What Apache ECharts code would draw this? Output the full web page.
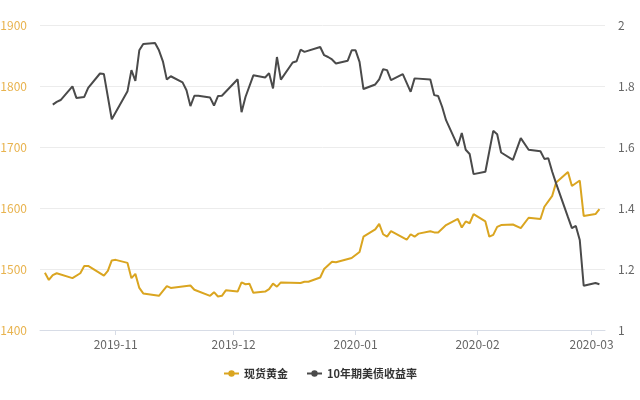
<!DOCTYPE html>
<html>
<head>
<meta charset="utf-8">
<script src="https://cdn.jsdelivr.net/npm/echarts@6/dist/echarts.min.js"></script>
<style>
html,body{margin:0;padding:0;background:#fff;}
#chart{width:640px;height:400px;}
</style>
</head>
<body>
<div id="chart"></div>
<script>
var goldName = '现货黄金';
var yieldName = '10年期美债收益率';

var goldDates = ['2019-10-14','2019-10-15','2019-10-16','2019-10-17','2019-10-21','2019-10-23','2019-10-24','2019-10-25','2019-10-29','2019-10-30','2019-10-31','2019-11-01','2019-11-04','2019-11-05','2019-11-06','2019-11-07','2019-11-08','2019-11-12','2019-11-14','2019-11-15','2019-11-20','2019-11-21','2019-11-25','2019-11-26','2019-11-27','2019-11-28','2019-11-29','2019-12-02','2019-12-03','2019-12-04','2019-12-05','2019-12-06','2019-12-09','2019-12-10','2019-12-11','2019-12-12','2019-12-13','2019-12-18','2019-12-19','2019-12-20','2019-12-23','2019-12-24','2019-12-26','2019-12-27','2019-12-31','2020-01-02','2020-01-03','2020-01-06','2020-01-07','2020-01-08','2020-01-09','2020-01-10','2020-01-14','2020-01-15','2020-01-16','2020-01-17','2020-01-20','2020-01-21','2020-01-22','2020-01-24','2020-01-27','2020-01-28','2020-01-29','2020-01-30','2020-01-31','2020-02-03','2020-02-04','2020-02-05','2020-02-06','2020-02-07','2020-02-10','2020-02-12','2020-02-14','2020-02-17','2020-02-18','2020-02-20','2020-02-21','2020-02-24','2020-02-25','2020-02-27','2020-02-28','2020-03-02','2020-03-03'];
var goldValues = [1494,1482,1490,1493,1485,1493,1505,1505,1489,1497,1514,1515,1510,1485,1492,1469,1460,1456,1472,1469,1473,1466,1456,1462,1455,1456,1465,1463,1478,1475,1476,1461,1463,1467,1476,1471,1478,1477,1479,1479,1486,1500,1512,1511,1518,1528,1553,1565,1574,1557,1553,1562,1548,1557,1553,1558,1562,1560,1560,1572,1582,1568,1578,1575,1590,1578,1553,1556,1569,1572,1573,1567,1584,1582,1602,1620,1642,1659,1636,1645,1587,1590,1598];

var yieldDates = ['2019-10-16','2019-10-17','2019-10-18','2019-10-21','2019-10-22','2019-10-24','2019-10-25','2019-10-28','2019-10-29','2019-10-31','2019-11-04','2019-11-05','2019-11-06','2019-11-07','2019-11-08','2019-11-11','2019-11-12','2019-11-13','2019-11-14','2019-11-15','2019-11-18','2019-11-19','2019-11-20','2019-11-21','2019-11-22','2019-11-25','2019-11-26','2019-11-27','2019-11-28','2019-12-02','2019-12-03','2019-12-04','2019-12-06','2019-12-09','2019-12-10','2019-12-11','2019-12-12','2019-12-13','2019-12-16','2019-12-17','2019-12-18','2019-12-19','2019-12-23','2019-12-24','2019-12-25','2019-12-26','2019-12-27','2019-12-30','2019-12-31','2020-01-01','2020-01-02','2020-01-03','2020-01-06','2020-01-07','2020-01-08','2020-01-09','2020-01-10','2020-01-13','2020-01-15','2020-01-16','2020-01-20','2020-01-21','2020-01-22','2020-01-23','2020-01-24','2020-01-27','2020-01-28','2020-01-29','2020-01-30','2020-01-31','2020-02-03','2020-02-05','2020-02-06','2020-02-07','2020-02-10','2020-02-12','2020-02-14','2020-02-17','2020-02-18','2020-02-19','2020-02-20','2020-02-21','2020-02-24','2020-02-25','2020-02-26','2020-02-27','2020-02-28','2020-03-02','2020-03-03'];
var yieldValues = [1.739,1.748,1.754,1.799,1.761,1.764,1.794,1.841,1.839,1.691,1.783,1.852,1.817,1.917,1.938,1.941,1.917,1.881,1.821,1.832,1.812,1.786,1.734,1.768,1.768,1.762,1.736,1.767,1.768,1.822,1.714,1.764,1.835,1.828,1.842,1.792,1.895,1.821,1.877,1.881,1.919,1.912,1.928,1.901,1.895,1.887,1.874,1.883,1.917,1.917,1.879,1.790,1.805,1.822,1.855,1.852,1.819,1.839,1.781,1.825,1.821,1.770,1.767,1.732,1.688,1.603,1.646,1.591,1.577,1.511,1.519,1.653,1.642,1.582,1.558,1.629,1.591,1.586,1.561,1.563,1.519,1.480,1.370,1.334,1.341,1.295,1.145,1.154,1.150];

var xMin = '2019-10-12 18:00:00';
var xMax = '2020-03-04 10:00:00';

function pairs(d, v) { return d.map(function (x, i) { return [x, v[i]]; }); }

var chart = echarts.init(document.getElementById('chart'), null, {renderer: 'canvas'});
chart.setOption({
  animation: false,
  textStyle: {fontFamily: '"Noto Sans CJK SC", "Noto Sans", sans-serif'},
  grid: {left: 40, right: 35, top: 25, bottom: 70, containLabel: false, outerBoundsMode: 'none'},
  legend: {
    bottom: 16,
    left: 'center',
    itemWidth: 15,
    itemHeight: 8,
    itemGap: 18,
    textStyle: {color: '#333', fontSize: 11, fontWeight: 'bold'},
    data: [goldName, yieldName]
  },
  xAxis: {
    type: 'time',
    min: xMin,
    max: xMax,
    splitNumber: 5,
    minInterval: 28 * 24 * 3600 * 1000,
    axisLine: {lineStyle: {color: '#d7dce6'}},
    axisTick: {show: true, length: 5, lineStyle: {color: '#d7dce6'}},
    splitLine: {show: false},
    axisLabel: {
      color: '#666',
      fontSize: 12,
      margin: 8,
      formatter: function (v) { return echarts.time.format(v, '{yyyy}-{MM}', false); }
    }
  },
  yAxis: [{
    type: 'value',
    min: 1400,
    max: 1900,
    interval: 100,
    axisLine: {show: false},
    axisTick: {show: false},
    axisLabel: {color: '#e8b34e', fontSize: 12, margin: 13, formatter: function (v) { return String(v); }},
    splitLine: {lineStyle: {color: '#ececec', width: 1}}
  }, {
    type: 'value',
    min: 1,
    max: 2,
    interval: 0.2,
    axisLine: {show: false},
    axisTick: {show: false},
    axisLabel: {color: '#666', fontSize: 12, margin: 13, formatter: function (v) { return String(+v.toFixed(1)); }},
    splitLine: {show: false}
  }],
  series: [{
    name: goldName,
    type: 'line',
    yAxisIndex: 0,
    symbol: 'circle',
    symbolSize: 8,
    showSymbol: false,
    itemStyle: {color: '#DAA520'},
    lineStyle: {color: '#DAA520', width: 2},
    data: pairs(goldDates, goldValues)
  }, {
    name: yieldName,
    type: 'line',
    yAxisIndex: 1,
    symbol: 'circle',
    symbolSize: 5,
    showSymbol: false,
    itemStyle: {color: '#4a4a4a'},
    lineStyle: {color: '#4a4a4a', width: 2},
    data: pairs(yieldDates, yieldValues)
  }]
});
</script>
</body>
</html>
